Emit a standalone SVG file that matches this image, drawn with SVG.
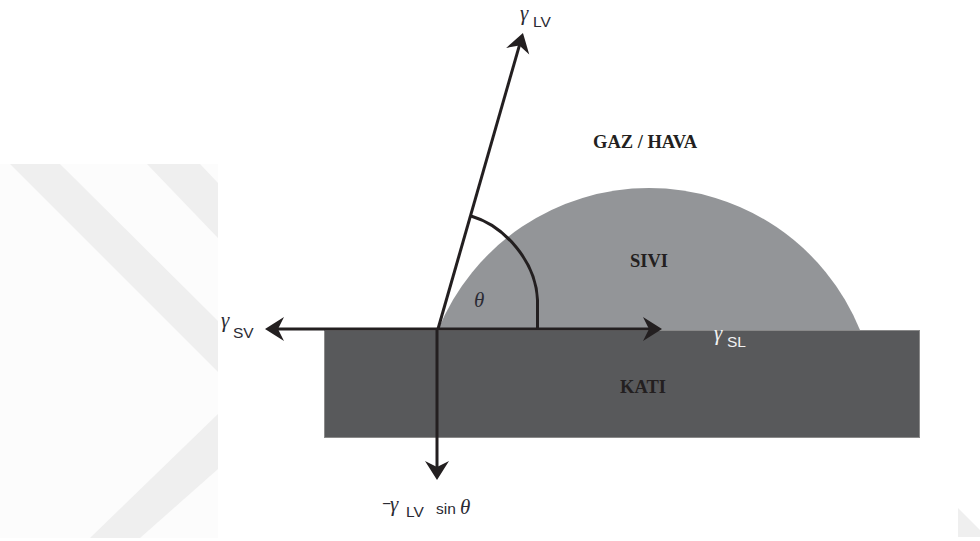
<svg xmlns="http://www.w3.org/2000/svg" width="980" height="541" viewBox="0 0 980 541">
  <style>
    .lbl { font-family: "Liberation Serif", "Times New Roman", serif; font-weight: bold; font-size: 18.5px; fill: #231f20; }
    .g { font-family: "Liberation Serif", "Times New Roman", serif; font-style: italic; font-size: 21px; fill: #2a2a33; }
    .sub { font-family: "Liberation Sans", Arial, sans-serif; font-size: 15.5px; fill: #2a2a33; }
    .w { fill: #f2f2f2; }
    .vec { stroke: #231f20; stroke-width: 3; fill: none; }
    .wm { fill: #efefef; }
  </style>
  <defs>
    <marker id="head" viewBox="-32 -13 34 26" refX="-10" refY="0" markerWidth="34" markerHeight="26" markerUnits="userSpaceOnUse" orient="auto-start-reverse">
      <path d="M0,0 L-19,-12 L-13,0 L-19,12 Z" fill="#231f20"/>
    </marker>
  </defs>
  <rect width="980" height="541" fill="#ffffff"/>
  <g id="watermark">
    <rect x="0" y="164" width="218" height="374" fill="#fcfcfc"/>
    <polygon class="wm" points="10,164 60,164 218,321 218,372"/>
    <polygon class="wm" points="147,164 200,164 218,183 218,238"/>
    <polygon class="wm" points="218,414 218,469 140,538 90,538"/>
    <polygon class="wm" points="958,508 980,530 980,537 958,537"/>
  </g>
  <g id="liquid">
    <path d="M438,330 A227.8,227.8 0 0 1 860,330 Z" fill="#939598"/>
  </g>
  <g id="solid">
    <rect x="324.5" y="330.5" width="595" height="107" fill="#58595b" stroke="#8a8a8a" stroke-width="1"/>
  </g>
  <g id="connectors">
    <line class="vec" x1="275" y1="329" x2="652" y2="329" marker-start="url(#head)" marker-end="url(#head)"/>
    <line class="vec" x1="438" y1="329" x2="520.2" y2="42.6" marker-end="url(#head)"/>
    <line class="vec" x1="437" y1="329" x2="437" y2="470" marker-end="url(#head)"/>
    <path class="vec" d="M471,216 C505,226 536,262 537.5,300 L537.5,328" stroke-width="2.8"/>
  </g>
  <g id="labels">
    <text class="lbl" x="593" y="148">GAZ / HAVA</text>
    <text class="lbl" x="630" y="267">SIVI</text>
    <text class="lbl" x="620" y="393">KATI</text>
    <text class="g" x="474" y="307" font-size="17">θ</text>
    <g id="gamma-lv">
      <text class="g" x="520" y="20">γ</text>
      <text class="sub" x="533" y="27" font-size="16.5">LV</text>
    </g>
    <g id="gamma-sv">
      <text class="g" x="221" y="327">γ</text>
      <text class="sub" x="233" y="338">SV</text>
    </g>
    <g id="gamma-sl">
      <text class="g w" x="714" y="340">γ</text>
      <text class="sub w" x="727" y="347">SL</text>
    </g>
    <g id="minus-gamma-sin">
      <text class="sub" x="382" y="509">−</text>
      <text class="g" x="390" y="511">γ</text>
      <text class="sub" x="406" y="517">LV</text>
      <text class="sub" x="436" y="514" font-size="16.5">sin</text>
      <text class="g" x="460" y="514" font-size="18">θ</text>
    </g>
  </g>
</svg>
